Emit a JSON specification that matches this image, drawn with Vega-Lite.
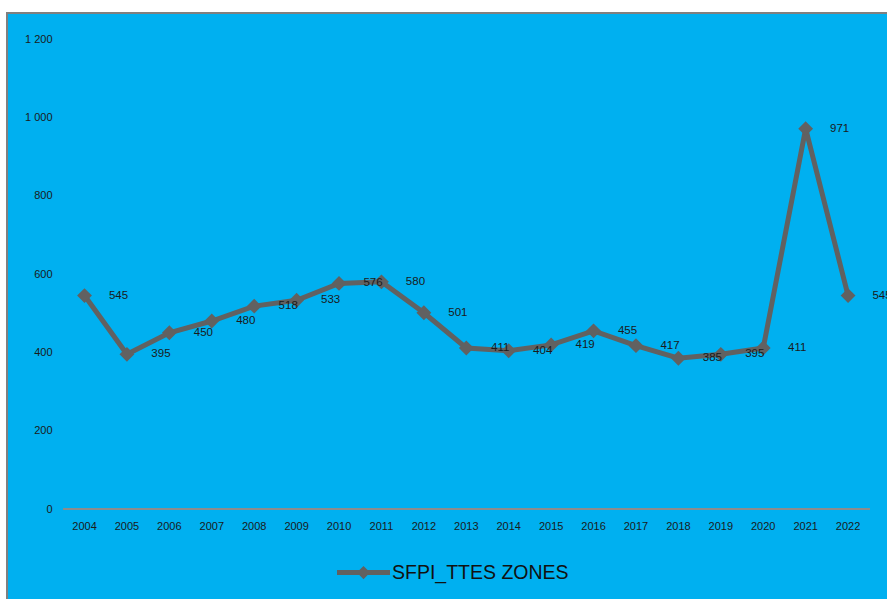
{
  "$schema": "https://vega.github.io/schema/vega-lite/v6.json",
  "width": 883,
  "height": 589,
  "autosize": {"type": "none"},
  "padding": {"left": 7, "top": 13, "right": -3, "bottom": -3},
  "background": "white",
  "config": {
    "view": {"fill": "#00B0F0", "stroke": "#808080", "strokeWidth": 2},
    "font": "Liberation Sans"
  },
  "data": {
    "values": [
      {"year": "2004", "value": 545},
      {"year": "2005", "value": 395},
      {"year": "2006", "value": 450},
      {"year": "2007", "value": 480},
      {"year": "2008", "value": 518},
      {"year": "2009", "value": 533},
      {"year": "2010", "value": 576},
      {"year": "2011", "value": 580},
      {"year": "2012", "value": 501},
      {"year": "2013", "value": 411},
      {"year": "2014", "value": 404},
      {"year": "2015", "value": 419},
      {"year": "2016", "value": 455},
      {"year": "2017", "value": 417},
      {"year": "2018", "value": 385},
      {"year": "2019", "value": 395},
      {"year": "2020", "value": 411},
      {"year": "2021", "value": 971},
      {"year": "2022", "value": 545}
    ]
  },
  "encoding": {
    "x": {
      "field": "year",
      "type": "nominal",
      "sort": null,
      "scale": {
        "type": "band",
        "domain": ["2004","2005","2006","2007","2008","2009","2010","2011","2012","2013","2014","2015","2016","2017","2018","2019","2020","2021","2022"],
        "paddingInner": 0,
        "paddingOuter": 0.9078,
        "align": 0.731
      },
      "axis": {
        "title": null,
        "orient": "bottom",
        "offset": -93,
        "domain": false,
        "ticks": false,
        "labelAngle": 0,
        "labelFontSize": 11,
        "labelColor": "#1a1a1a",
        "labelPadding": 11,
        "labelBaseline": "top"
      }
    },
    "y": {
      "field": "value",
      "type": "quantitative",
      "scale": {"domain": [-237.4, 1266.4], "nice": false, "zero": false},
      "axis": {
        "title": null,
        "values": [0, 200, 400, 600, 800, 1000, 1200],
        "labelExpr": "replace(format(datum.value, ','), ',', ' ')",
        "grid": false,
        "domain": false,
        "ticks": false,
        "offset": -50,
        "labelPadding": 5,
        "labelFontSize": 11,
        "labelColor": "#1a1a1a"
      }
    }
  },
  "layer": [
    {
      "mark": {"type": "rule", "color": "#8c8c8c", "strokeWidth": 1.5},
      "encoding": {
        "x": {"datum": "2004", "type": "nominal", "bandPosition": 0},
        "x2": {"datum": "2022", "bandPosition": 1},
        "y": {"datum": 0, "type": "quantitative"}
      }
    },
    {
      "mark": {"type": "line", "strokeWidth": 5},
      "encoding": {
        "color": {
          "datum": "SFPI_TTES ZONES",
          "type": "nominal",
          "scale": {"range": ["#616161"]},
          "legend": {
            "title": null,
            "orient": "none",
            "legendX": 330,
            "legendY": 533,
            "symbolType": "M-1,-0.09H1V0.09H-1Z M0,-0.25L0.25,0L0,0.25L-0.25,0Z",
            "symbolSize": 2809,
            "symbolStrokeWidth": 0,
            "symbolFillColor": "#616161",
            "labelFontSize": 19.5,
            "labelLimit": 400,
            "labelColor": "#111111",
            "labelOffset": 2
          }
        }
      }
    },
    {
      "mark": {"type": "point", "shape": "diamond", "filled": true, "size": 220, "opacity": 1, "color": "#616161"}
    },
    {
      "mark": {"type": "text", "dx": 34, "align": "center", "baseline": "middle", "fontSize": 11.5, "color": "#1a1a1a"},
      "encoding": {"text": {"field": "value", "type": "quantitative"}}
    }
  ]
}
